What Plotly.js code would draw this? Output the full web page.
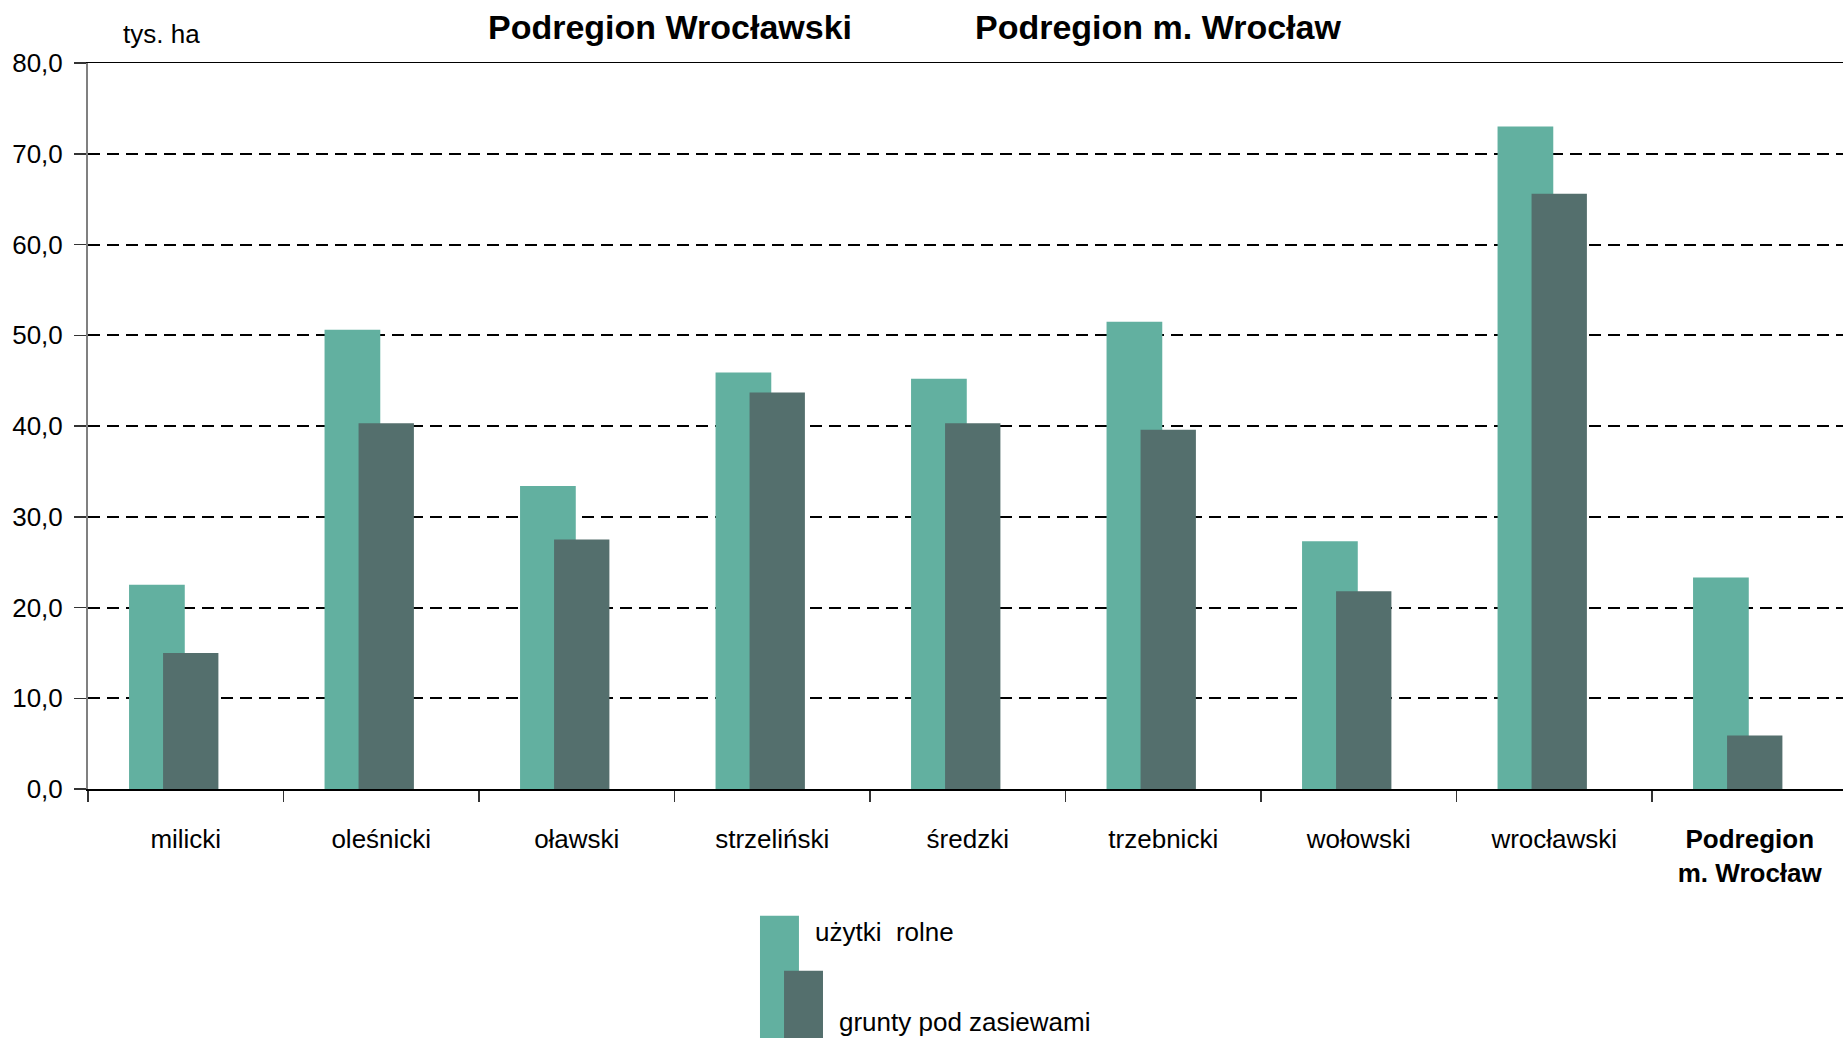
<!DOCTYPE html>
<html>
<head>
<meta charset="utf-8">
<script src="https://cdn.plot.ly/plotly-3.0.1.min.js"></script>
<style>html,body{margin:0;padding:0;background:#fff;}#chart{width:1843px;height:1038px;}</style>
</head>
<body>
<div id="chart"></div>
<script>
const categories = ["milicki","oleśnicki","oławski","strzeliński","średzki","trzebnicki","wołowski","wrocławski","Podregion m. Wrocław"];
const tickLabels = ["milicki","oleśnicki","oławski","strzeliński","średzki","trzebnicki","wołowski","wrocławski","<b>Podregion<br>m. Wrocław</b>"];
const uzytkiRolne = [22.5, 50.6, 33.4, 45.9, 45.2, 51.5, 27.3, 73.0, 23.3];
const gruntyPodZasiewami = [15.0, 40.3, 27.5, 43.7, 40.3, 39.6, 21.8, 65.6, 5.9];
const yTicks = [0,10,20,30,40,50,60,70,80];
const seriesNames = ["użytki\u00a0 rolne", "grunty pod zasiewami"];

const lightColor = "#62B0A0";
const darkColor = "#546F6D";
const FONT = "Liberation Sans, Arial, sans-serif";

const traces = [
  {type:"bar", x:categories, y:uzytkiRolne, name:seriesNames[0],
   marker:{color:lightColor, line:{width:0}}, offset:-0.290, width:0.285, showlegend:false, hoverinfo:"skip"},
  {type:"bar", x:categories, y:gruntyPodZasiewami, name:seriesNames[1],
   marker:{color:darkColor, line:{width:0}}, offset:-0.116, width:0.283, showlegend:false, hoverinfo:"skip"}
];

const layout = {
  width:1843, height:1038,
  margin:{l:88, r:0, t:63, b:249, pad:0},
  paper_bgcolor:"#fff", plot_bgcolor:"#fff",
  separators:", ",
  barmode:"overlay",
  font:{family:FONT, size:26, color:"#000"},
  xaxis:{
    type:"category",
    categoryorder:"array", categoryarray:categories,
    tickvals:categories, ticktext:tickLabels,
    range:[-0.5, 8.477],
    tickson:"boundaries",
    ticks:"outside", ticklen:11, tickwidth:1.5, tickcolor:"#333",
    showline:true, linecolor:"#000", linewidth:1.5, mirror:true,
    showgrid:false, zeroline:false,
    ticklabelstandoff:26,
    tickfont:{family:FONT, size:26, color:"#000"},
    fixedrange:true
  },
  yaxis:{
    range:[0,80], tickvals:yTicks, tickformat:".1f",
    ticks:"outside", ticklen:12, tickwidth:1.5, tickcolor:"#333",
    showline:true, linecolor:"#808080", linewidth:2,
    showgrid:true, gridcolor:"#000", gridwidth:2, griddash:"12px,7px",
    zeroline:false,
    ticklabelstandoff:6,
    tickfont:{family:FONT, size:26, color:"#000"},
    fixedrange:true
  },
  shapes:[
    {type:"rect", xref:"paper", yref:"paper", x0:0.3829, x1:0.4051, y0:-0.345, y1:-0.1747,
     fillcolor:lightColor, line:{width:0}},
    {type:"rect", xref:"paper", yref:"paper", x0:0.3966, x1:0.4188, y0:-0.345, y1:-0.2503,
     fillcolor:darkColor, line:{width:0}}
  ],
  annotations:[
    {text:"<b>Podregion Wrocławski</b>", xref:"paper", yref:"paper", x:0.3316, y:1.0495,
     xanchor:"center", yanchor:"middle", showarrow:false, font:{family:FONT, size:34, color:"#000"}},
    {text:"<b>Podregion m. Wrocław</b>", xref:"paper", yref:"paper", x:0.6097, y:1.0495,
     xanchor:"center", yanchor:"middle", showarrow:false, font:{family:FONT, size:34, color:"#000"}},
    {text:"tys. ha", xref:"paper", yref:"paper", x:0.0416, y:1.040,
     xanchor:"center", yanchor:"middle", showarrow:false, font:{family:FONT, size:26, color:"#000"}},
    {text:seriesNames[0], xref:"paper", yref:"paper", x:0.4131, y:-0.1967,
     xanchor:"left", yanchor:"middle", showarrow:false, font:{family:FONT, size:26, color:"#000"}},
    {text:seriesNames[1], xref:"paper", yref:"paper", x:0.4268, y:-0.3205,
     xanchor:"left", yanchor:"middle", showarrow:false, font:{family:FONT, size:26, color:"#000"}}
  ]
};

Plotly.newPlot("chart", traces, layout, {displayModeBar:false, staticPlot:true});
</script>
</body>
</html>
